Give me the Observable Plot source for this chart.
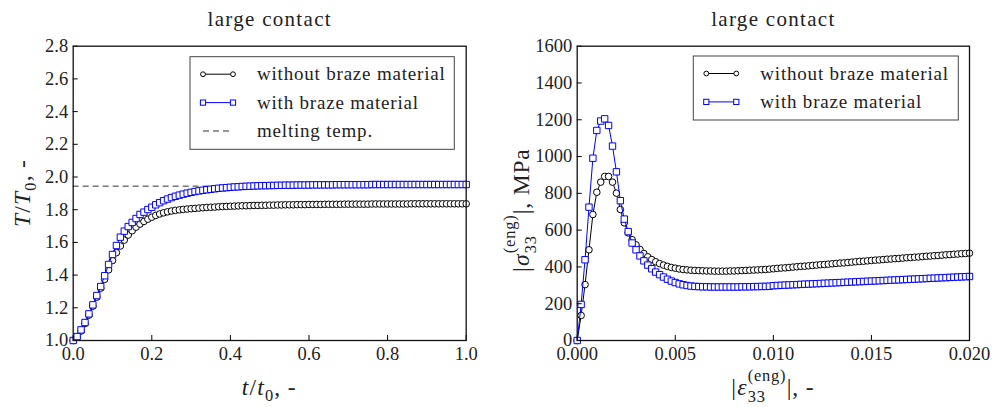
<!DOCTYPE html>
<html><head><meta charset="utf-8">
<script src="https://cdn.jsdelivr.net/npm/d3@7"></script>
<script src="https://cdn.jsdelivr.net/npm/@observablehq/plot@0.6"></script>
<style>
body{margin:0;background:#fff;}
#wrap{display:flex;width:994px;height:407px;overflow:hidden;}
svg, svg text{font-family:'Liberation Serif','DejaVu Serif',serif !important;}
</style></head><body><div id="wrap"></div>
<script>
// ---------- data ----------
const titleText = "large contact";
const legendLeft = ["without braze material", "with braze material", "melting temp."];
const legendRight = ["without braze material", "with braze material"];

// left panel: T/T0 vs t/t0 (t step 0.01, 0..1)
const tGrid = d3.range(0, 101).map(i => i / 100);
const T_noBraze = [
1.000,1.020,1.058,1.104,1.155,1.210,1.265,1.320,1.374,1.432,
1.489,1.537,1.578,1.614,1.645,1.671,1.693,1.712,1.728,1.742,
1.754,1.765,1.774,1.781,1.787,1.792,1.796,1.799,1.802,1.804,
1.806,1.808,1.810,1.812,1.814,1.815,1.816,1.818,1.819,1.820,
1.821,1.822,1.823,1.824,1.824,1.825,1.826,1.826,1.827,1.827,
1.828,1.828,1.829,1.829,1.830,1.830,1.830,1.831,1.831,1.831,
1.832,1.832,1.832,1.832,1.833,1.833,1.833,1.833,1.833,1.834,
1.834,1.834,1.834,1.834,1.834,1.834,1.835,1.835,1.835,1.835,
1.835,1.835,1.835,1.835,1.835,1.835,1.836,1.836,1.836,1.836,
1.836,1.836,1.836,1.836,1.836,1.836,1.836,1.836,1.836,1.836,
1.836];
const T_braze = [
1.000,1.024,1.065,1.110,1.163,1.218,1.275,1.330,1.396,1.465,
1.526,1.581,1.632,1.669,1.697,1.722,1.746,1.771,1.785,1.801,
1.815,1.830,1.843,1.855,1.865,1.874,1.882,1.889,1.895,1.901,
1.906,1.911,1.915,1.919,1.922,1.925,1.928,1.931,1.933,1.935,
1.937,1.939,1.940,1.942,1.943,1.944,1.945,1.946,1.947,1.947,
1.948,1.948,1.949,1.949,1.950,1.950,1.950,1.951,1.951,1.951,
1.951,1.952,1.952,1.952,1.952,1.952,1.952,1.953,1.953,1.953,
1.953,1.953,1.953,1.953,1.953,1.953,1.954,1.954,1.954,1.954,
1.954,1.954,1.954,1.954,1.954,1.954,1.954,1.954,1.954,1.954,
1.954,1.954,1.954,1.954,1.954,1.954,1.954,1.954,1.954,1.954,
1.954];
const meltTemp = 1.944;
const xTicksL = [0, 0.2, 0.4, 0.6, 0.8, 1.0];
const yTicksL = [1.0, 1.2, 1.4, 1.6, 1.8, 2.0, 2.2, 2.4, 2.6, 2.8];

// right panel: |sigma33| (MPa) vs |eps33| (step 0.0002, 0..0.02)
const epsGrid = d3.range(0, 101).map(i => i * 0.0002);
const S_noBraze = [
0,136,304,493,685,806,861,892,892,861,
801,712,640,585,548,520,495,473,455,440,
428,418,410,403,397,393,389,386,384,382,
381,380,379,378,378,377,377,377,377,378,
378,379,380,381,382,383,384,385,386,388,
390,392,394,395,397,399,401,403,404,406,
408,410,412,413,415,417,419,421,422,424,
426,428,430,431,433,435,437,438,440,442,
443,445,446,448,450,451,453,454,456,458,
459,461,462,464,466,467,469,470,472,473,
475];
const S_braze = [
0,196,439,725,991,1142,1193,1205,1169,1057,
917,760,660,592,530,493,460,433,410,390,
372,358,345,333,323,315,308,303,299,296,
294,293,292,292,291,291,291,291,291,291,
291,291,292,292,292,293,293,294,294,295,
298,299,300,301,302,303,304,305,306,307,
308,309,310,311,312,313,314,315,316,317,
318,319,320,321,322,323,324,325,326,327,
328,329,330,331,332,333,334,335,336,337,
338,339,340,341,342,343,344,345,346,347,
348];
const xTicksR = [0, 0.005, 0.010, 0.015, 0.020];
const yTicksR = [0, 200, 400, 600, 800, 1000, 1200, 1400, 1600];

// ---------- layout ----------
const W = 497, H = 407, MT = 45.7, MB = 67;
const FONT = "'Liberation Serif','DejaVu Serif',serif";
const TXT = "#222";
const left = tGrid.map((t, i) => ({x: t, a: T_noBraze[i], b: T_braze[i]}));
const right = epsGrid.map((e, i) => ({x: e, a: S_noBraze[i], b: S_braze[i]}));

function panel({data, xDomain, yDomain, xTicks, yTicks, xFmt, yFmt, mL, mR, extra = []}) {
  const iw = W - mL - mR, ih = H - MT - MB;
  return Plot.plot({
    width: W, height: H,
    marginLeft: mL, marginRight: mR, marginTop: MT, marginBottom: MB,
    style: {fontFamily: FONT, fontSize: "18.5px", color: TXT, background: "white", overflow: "visible"},
    x: {domain: xDomain},
    y: {domain: yDomain},
    marks: [
      ...extra,
      Plot.line(data, {x: "x", y: "a", stroke: "black", strokeWidth: 1}),
      Plot.dot(data, {x: "x", y: "a", r: 3.3, stroke: "black", fill: "white", strokeWidth: 1}),
      Plot.line(data, {x: "x", y: "b", stroke: "blue", strokeWidth: 1}),
      Plot.dot(data, {x: "x", y: "b", symbol: "square", r: 3.6, stroke: "blue", fill: "white", strokeWidth: 1}),
      Plot.axisX({ticks: xTicks, tickFormat: xFmt, tickSize: 0, tickPadding: 6, label: null, fill: TXT}),
      Plot.axisY({ticks: yTicks, tickFormat: yFmt, tickSize: 0, tickPadding: 5, label: null, fill: TXT}),
      Plot.tickX(xTicks, {x: d => d, insetTop: ih - 5, stroke: "black", strokeWidth: 1}),
      Plot.tickY(yTicks, {y: d => d, insetRight: iw - 5, stroke: "black", strokeWidth: 1}),
      Plot.frame({stroke: "#111", strokeWidth: 1.3}),
      Plot.text([titleText], {frameAnchor: "top", dy: -27, lineAnchor: "middle", fontSize: 21, fill: TXT,
        letterSpacing: 1.3})
    ]
  });
}

const svgL = panel({
  data: left, xDomain: [0, 1], yDomain: [1, 2.8], xTicks: xTicksL, yTicks: yTicksL,
  xFmt: ".1f", yFmt: ".1f", mL: 72.7, mR: 31.3,
  extra: [Plot.ruleY([meltTemp], {stroke: "#333", strokeWidth: 1, strokeDasharray: "6,4"})]
});
const svgR = panel({
  data: right, xDomain: [0, 0.02], yDomain: [0, 1600], xTicks: xTicksR, yTicks: yTicksR,
  xFmt: ".3f", yFmt: "d", mL: 79.7, mR: 25
});
const wrap = document.getElementById("wrap");
wrap.appendChild(svgL);
wrap.appendChild(svgR);
d3.selectAll("svg text").filter(function(){ return this.textContent === titleText; })
  .attr("letter-spacing", 1.3);

// ---------- rich text labels ----------
function rich(svg, x, y, rot, parts, size, ls = 0) {
  const g = d3.select(svg).append("g")
    .attr("transform", `translate(${x},${y}) rotate(${rot})`)
    .attr("fill", TXT).attr("text-anchor", "start");
  const inner = g.append("g");
  let cx = 0;
  const put = q => {
    const t = inner.append("text").attr("x", cx).attr("y", (q.dy || 0) * size)
      .attr("text-anchor", "start").attr("letter-spacing", ls)
      .attr("font-size", size * (q.sc || 1))
      .attr("font-style", q.it ? "italic" : "normal").text(q.s);
    return t.node().getComputedTextLength() + ls * 0.5;
  };
  for (const p of parts) {
    if (p.stack) { let w = 0; for (const q of p.stack) w = Math.max(w, put(q)); cx += w; }
    else cx += put(p);
  }
  inner.attr("transform", `translate(${-cx / 2},0)`);
}
const LS = 23.5;
rich(svgL, 30, 193, -90, [
  {s: "T", it: true}, {s: "/"}, {s: "T", it: true}, {s: "0", sc: 0.7, dy: 0.25}, {s: ", -"}
], LS, 0.8);
rich(svgL, 269.2, 395, 0, [
  {s: "t", it: true}, {s: "/"}, {s: "t", it: true}, {s: "0", sc: 0.7, dy: 0.25}, {s: ", -"}
], LS, 0.8);
rich(svgR, 32, 210, -90, [
  {s: "|"}, {s: "σ", it: true}, {stack: [{s: "(eng)", sc: 0.7, dy: -0.6}, {s: "33", sc: 0.7, dy: 0.3}]}, {s: "|, MPa"}
], LS, 0.8);
rich(svgR, 276, 395, 0, [
  {s: "|"}, {s: "ε", it: true}, {stack: [{s: "(eng)", sc: 0.7, dy: -0.6}, {s: "33", sc: 0.7, dy: 0.3}]}, {s: "|, -"}
], LS, 0.8);

// ---------- legends ----------
function legend(svg, bx, by, bw, bh, rows) {
  const g = d3.select(svg).append("g").attr("text-anchor", "start");
  g.append("rect").attr("x", bx).attr("y", by).attr("width", bw).attr("height", bh)
    .attr("fill", "white").attr("stroke", "#444").attr("stroke-width", 1);
  rows.forEach((r, i) => {
    const y = by + 17.5 + i * 28.4;
    const x1 = bx + 13, x2 = bx + 43;
    if (r.kind === "dash") {
      g.append("line").attr("x1", x1).attr("x2", x2).attr("y1", y).attr("y2", y)
        .attr("stroke", "#333").attr("stroke-dasharray", "6,4");
    } else {
      g.append("line").attr("x1", x1).attr("x2", x2).attr("y1", y).attr("y2", y)
        .attr("stroke", r.color);
      for (const xx of [x1, x2]) {
        if (r.kind === "circle") g.append("circle").attr("cx", xx).attr("cy", y).attr("r", 2.4)
          .attr("fill", "white").attr("stroke", r.color);
        else g.append("rect").attr("x", xx - 2.6).attr("y", y - 2.6).attr("width", 5.2).attr("height", 5.2)
          .attr("fill", "white").attr("stroke", r.color);
      }
    }
    g.append("text").attr("x", bx + 67).attr("y", y + 6).attr("font-size", 19)
      .attr("text-anchor", "start")
      .attr("letter-spacing", 0.8).attr("fill", TXT).text(r.label);
  });
}
legend(svgL, 190, 56.7, 264.3, 92.6, [
  {kind: "circle", color: "black", label: legendLeft[0]},
  {kind: "square", color: "blue", label: legendLeft[1]},
  {kind: "dash", label: legendLeft[2]}
]);
legend(svgR, 196.3, 56, 265, 64, [
  {kind: "circle", color: "black", label: legendRight[0]},
  {kind: "square", color: "blue", label: legendRight[1]}
]);
</script></body></html>
